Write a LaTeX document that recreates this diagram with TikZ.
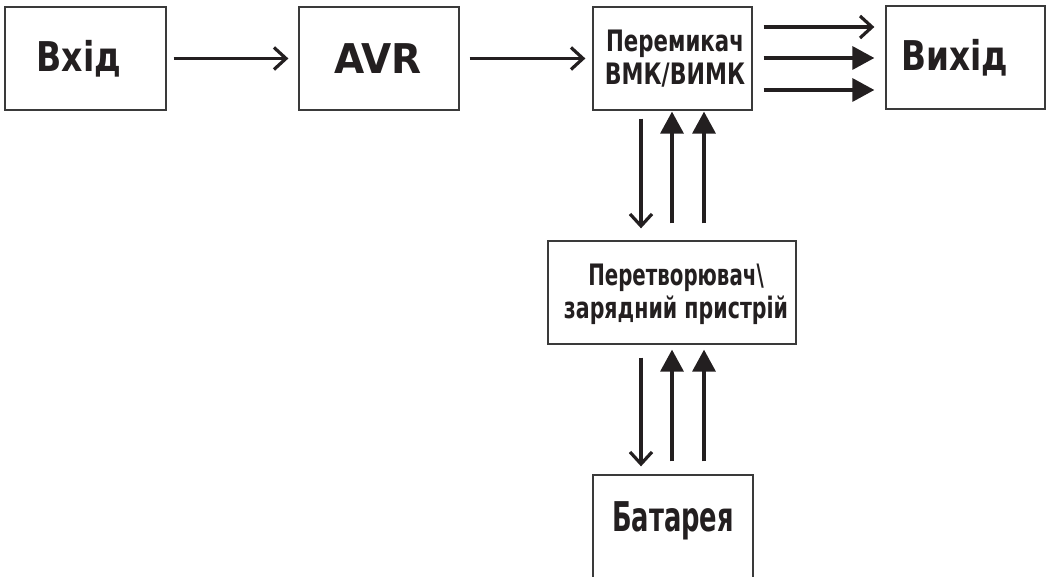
\documentclass[tikz,border=0pt]{standalone}
\usepackage{fontspec}
\usepackage{graphicx}
\newfontfamily\labfont{DejaVu Sans}[FakeStretch=0.85]
\usetikzlibrary{arrows.meta}
\definecolor{ink}{HTML}{231F20}
\definecolor{boxline}{HTML}{3A3A3A}
\newcommand{\sqz}[2]{\scalebox{#1}[1]{#2}}
\begin{document}
\begin{tikzpicture}[x=1pt,y=1pt,
  box/.style={draw=boxline,line width=1.3pt,minimum width=160pt,minimum height=103pt,inner sep=0pt},
  big/.style={text=ink,font=\labfont\bfseries\fontsize{41}{45}\selectfont},
  small/.style={text=ink,font=\labfont\bfseries\fontsize{29.5}{33}\selectfont,align=center},
  openarr/.style={draw=ink,line width=3.4pt,-{Straight Barb[length=12pt,width=22pt,line width=3.2pt]}},
  fillarr/.style={draw=ink,line width=3.4pt,-{Triangle[length=22pt,width=23pt]}},
]
\useasboundingbox (0,0) rectangle (1048,577);
\node[box,minimum width=161pt] (in) at (85.5,518.5) {};
\node[big] (intxt) at (79,518.5) {\sqz{0.95}{Вхід}};
\node[box] (avr) at (379,518.5) {};
\node[big] (avrtxt) at (378,518.5) {\sqz{1.12}{AVR}};
\node[box,minimum width=159pt] (sw) at (672.5,518.5) {};
\node[small] (swtxt) at (675,518.5) {\sqz{0.85}{Перемикач}\\\sqz{0.88}{ВМК/ВИМК}};
\node[box,minimum width=159pt] (out) at (965.5,519.5) {};
\node[big] (outtxt) at (954.5,519.5) {\sqz{0.94}{Вихід}};
\node[box,minimum width=248pt] (conv) at (672,284.5) {};
\node[small] (convtxt) at (676,283) {\sqz{0.79}{Перетворювач\textbackslash}\\\sqz{0.82}{зарядний пристрій}};
\node[box,minimum width=160pt,minimum height=110pt] (bat) at (673,47) {};
\node[big] (battxt) at (673,56) {\sqz{0.74}{Батарея}};
\coordinate (xa) at (641,0);
\coordinate (xb) at (672,0);
\coordinate (xc) at (704,0);
\coordinate (ya) at (0,550);
\coordinate (yb) at (0,519);
\coordinate (yc) at (0,487);
% horizontal
\draw[openarr,shorten <=7pt,shorten >=10pt] (in.east) -- (avr.west);
\draw[openarr,shorten <=10pt,shorten >=7pt] (avr.east) -- (sw.west);
\draw[openarr,shorten <=11pt,shorten >=11pt] (sw.east |- ya) -- (out.west |- ya);
\draw[fillarr,shorten <=11pt,shorten >=11pt] (sw.east |- yb) -- (out.west |- yb);
\draw[fillarr,shorten <=11pt,shorten >=11pt] (sw.east |- yc) -- (out.west |- yc);
% vertical upper
\draw[openarr,shorten <=8pt,shorten >=12pt] (sw.south -| xa) -- (conv.north -| xa);
\draw[fillarr,shorten <=17pt,shorten >=1pt] (conv.north -| xb) -- (sw.south -| xb);
\draw[fillarr,shorten <=17pt,shorten >=1pt] (conv.north -| xc) -- (sw.south -| xc);
% vertical lower
\draw[openarr,shorten <=13pt,shorten >=8pt] (conv.south -| xa) -- (bat.north -| xa);
\draw[fillarr,shorten <=13pt,shorten >=5pt] (bat.north -| xb) -- (conv.south -| xb);
\draw[fillarr,shorten <=13pt,shorten >=5pt] (bat.north -| xc) -- (conv.south -| xc);
\end{tikzpicture}
\end{document}
